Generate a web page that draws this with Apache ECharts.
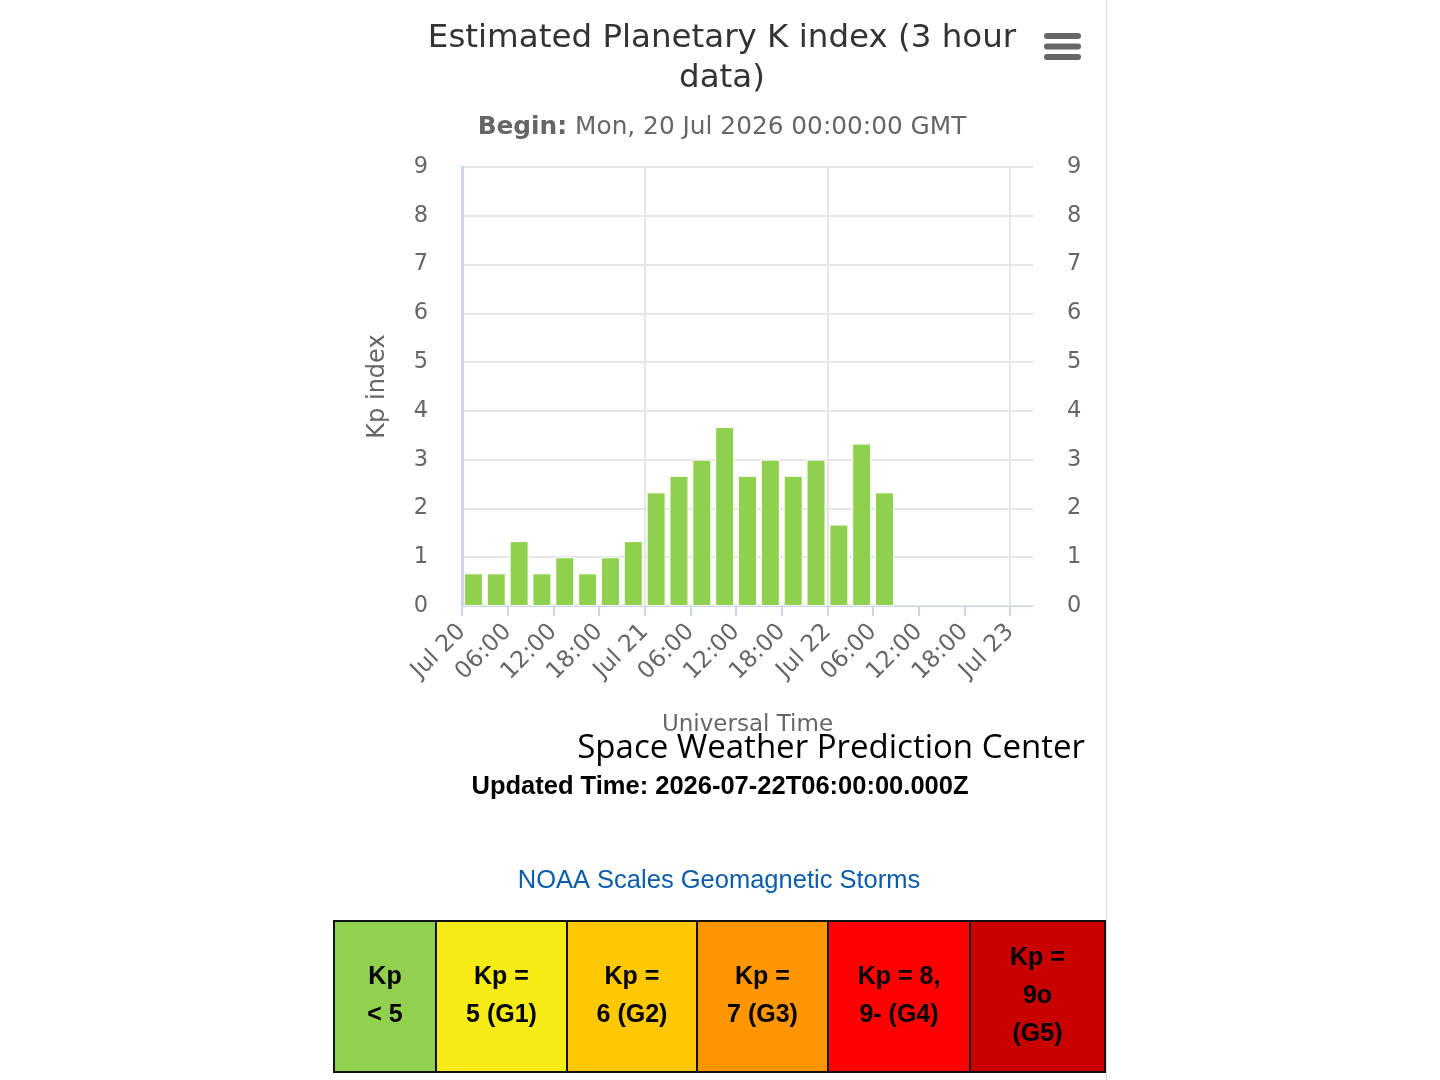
<!DOCTYPE html>
<html>
<head>
<meta charset="utf-8">
<title>Estimated Planetary K index</title>
<script src="https://cdn.jsdelivr.net/npm/echarts@6/dist/echarts.min.js"></script>
<style>
	html, body { margin: 0; padding: 0; background: #fff; }
	#kp { width: 1440px; height: 1080px; }
</style>
</head>
<body>
<div id="kp"></div>
<script>
// 3 hour slots (start time, UTC) shown on the axis, Jul 20 00:00 .. Jul 23 03:00
var slotStarts = [
	'07-20 00', '07-20 03', '07-20 06', '07-20 09', '07-20 12', '07-20 15', '07-20 18', '07-20 21',
	'07-21 00', '07-21 03', '07-21 06', '07-21 09', '07-21 12', '07-21 15', '07-21 18', '07-21 21',
	'07-22 00', '07-22 03', '07-22 06', '07-22 09', '07-22 12', '07-22 15', '07-22 18', '07-22 21',
	'07-23 00'
];
// estimated Kp, one per slot from Jul 20 00:00 (no data after Jul 22 06:00 slot)
var kpValues = [
	0.67, 0.67, 1.33, 0.67, 1, 0.67, 1, 1.33,
	2.33, 2.67, 3, 3.67, 2.67, 3, 2.67, 3,
	1.67, 3.33, 2.33
];
// labels every 6 hours, from Jul 20 00:00 to Jul 23 00:00
var tickLabels = [
	'Jul 20', '06:00', '12:00', '18:00',
	'Jul 21', '06:00', '12:00', '18:00',
	'Jul 22', '06:00', '12:00', '18:00',
	'Jul 23'
];
var yTicks = [0, 1, 2, 3, 4, 5, 6, 7, 8, 9];

var scaleLabels = ['Kp\n< 5', 'Kp =\n5 (G1)', 'Kp =\n6 (G2)', 'Kp =\n7 (G3)', 'Kp = 8,\n9- (G4)', 'Kp =\n9o\n(G5)'];
var scaleColors = ['#92d050', '#f6eb14', '#ffc800', '#ff9600', '#ff0000', '#c80000'];

// bar values padded to the slot count
var barData = [];
for (var i = 0; i < slotStarts.length; i++) {
	barData.push(i < kpValues.length ? kpValues[i] : '-');
}
// boundary points every 3 hours (one more than slots); labels on every second
var boundaryPoints = [];
for (var j = 0; j <= slotStarts.length; j++) {
	boundaryPoints.push(j % 2 === 0 && tickLabels[j / 2] ? tickLabels[j / 2] : '');
}

var FONT = 'DejaVu Sans';

// NOAA scale table
var cellEdges = [334, 436, 567, 697, 828, 970, 1105];
var tableTop = 921, tableBottom = 1072;
var graphics = [];
for (var c = 0; c < scaleLabels.length; c++) {
	graphics.push({
		type: 'rect',
		shape: { x: cellEdges[c], y: tableTop, width: cellEdges[c + 1] - cellEdges[c], height: tableBottom - tableTop },
		style: { fill: scaleColors[c], stroke: '#111', lineWidth: 2 }
	});
	graphics.push({
		type: 'text',
		x: (cellEdges[c] + cellEdges[c + 1]) / 2,
		y: (tableTop + tableBottom) / 2,
		style: {
			text: scaleLabels[c],
			fill: '#000',
			font: 'bold 25px "Liberation Sans", Arial, sans-serif',
			lineHeight: 38,
			align: 'center',
			verticalAlign: 'middle'
		}
	});
}

// menu icon
var menuRows = [36, 46.5, 57];
for (var m = 0; m < menuRows.length; m++) {
	graphics.push({
		type: 'rect',
		shape: { x: 1044, y: menuRows[m] - 3, width: 37, height: 6, r: 3 },
		style: { fill: '#666' }
	});
}

graphics.push({
	type: 'line',
	shape: { x1: 1106.5, y1: 0, x2: 1106.5, y2: 1080 },
	style: { stroke: '#dddddd', lineWidth: 1 }
});
graphics.push({
	type: 'text', x: 1085, y: 749,
	style: {
		text: 'Space Weather Prediction Center', fill: '#000',
		font: '33px "Open Sans", sans-serif', align: 'right', verticalAlign: 'middle'
	}
});
graphics.push({
	type: 'text', x: 720, y: 787,
	style: {
		text: 'Updated Time: 2026-07-22T06:00:00.000Z', fill: '#000',
		font: 'bold 25.5px "Liberation Sans", Arial, sans-serif', align: 'center', verticalAlign: 'middle'
	}
});
graphics.push({
	type: 'text', x: 719, y: 881,
	style: {
		text: 'NOAA Scales Geomagnetic Storms', fill: '#0b5dab',
		font: '25.5px "Liberation Sans", Arial, sans-serif', align: 'center', verticalAlign: 'middle'
	}
});

var chart = echarts.init(document.getElementById('kp'));
chart.setOption({
	animation: false,
	backgroundColor: '#fff',
	title: [{
		text: 'Estimated Planetary K index (3 hour\ndata)',
		left: 717,
		top: 14,
		textAlign: 'center',
		textStyle: {
			color: '#333333',
			fontFamily: FONT,
			fontWeight: 'normal',
			fontSize: 32.5,
			lineHeight: 40
		}
	}, {
		text: '{b|Begin:} Mon, 20 Jul 2026 00:00:00 GMT',
		left: 717,
		top: 110,
		textAlign: 'center',
		textStyle: {
			color: '#666666',
			fontFamily: FONT,
			fontWeight: 'normal',
			fontSize: 24.8,
			rich: {
				b: { color: '#666666', fontFamily: FONT, fontWeight: 'bold', fontSize: 24.8 }
			}
		}
	}],
	grid: {
		left: 462,
		right: 407,
		top: 167,
		bottom: 474
	},
	xAxis: [{
		// visible axis: 3 hour boundary points, ticks and labels every 6 hours
		type: 'category',
		data: boundaryPoints,
		boundaryGap: false,
		position: 'bottom',
		name: 'Universal Time',
		nameLocation: 'middle',
		nameGap: 108,
		nameTextStyle: { color: '#666666', fontSize: 23, fontFamily: FONT },
		axisLine: { show: true, lineStyle: { color: '#ccd6eb', width: 1 } },
		axisTick: { show: true, interval: 1, length: 10, lineStyle: { color: '#ccd6eb', width: 2 } },
		axisLabel: {
			interval: 1,
			rotate: 45,
			margin: 22,
			color: '#666666',
			fontSize: 23.5,
			fontFamily: FONT
		},
		splitLine: {
			show: true,
			interval: function (idx) { return idx % 8 === 0; },
			lineStyle: { color: '#e6e6e6', width: 2 }
		}
	}, {
		// hidden axis holding the 3 hour slots the bars sit in
		type: 'category',
		data: slotStarts,
		boundaryGap: true,
		position: 'top',
		show: false
	}],
	yAxis: [{
		type: 'value',
		min: yTicks[0],
		max: yTicks[yTicks.length - 1],
		interval: 1,
		name: 'Kp index',
		nameLocation: 'middle',
		nameGap: 72,
		nameTextStyle: { color: '#666666', fontSize: 24, fontFamily: FONT },
		axisLine: { show: true, lineStyle: { color: '#ccd6eb', width: 3 } },
		axisTick: { show: false },
		axisLabel: { color: '#666666', fontSize: 22.5, fontFamily: FONT, margin: 34 },
		splitLine: { show: true, lineStyle: { color: '#e6e6e6', width: 2 } }
	}, {
		type: 'value',
		position: 'right',
		min: yTicks[0],
		max: yTicks[yTicks.length - 1],
		interval: 1,
		axisLine: { show: false },
		axisTick: { show: false },
		axisLabel: { color: '#666666', fontSize: 22.5, fontFamily: FONT, margin: 34 },
		splitLine: { show: false }
	}],
	series: [{
		type: 'bar',
		xAxisIndex: 1,
		yAxisIndex: 0,
		data: barData,
		barWidth: 19,
		itemStyle: { color: '#90d04f', borderColor: '#ffffff', borderWidth: 1 }
	}],
	graphic: graphics
});
</script>
</body>
</html>
